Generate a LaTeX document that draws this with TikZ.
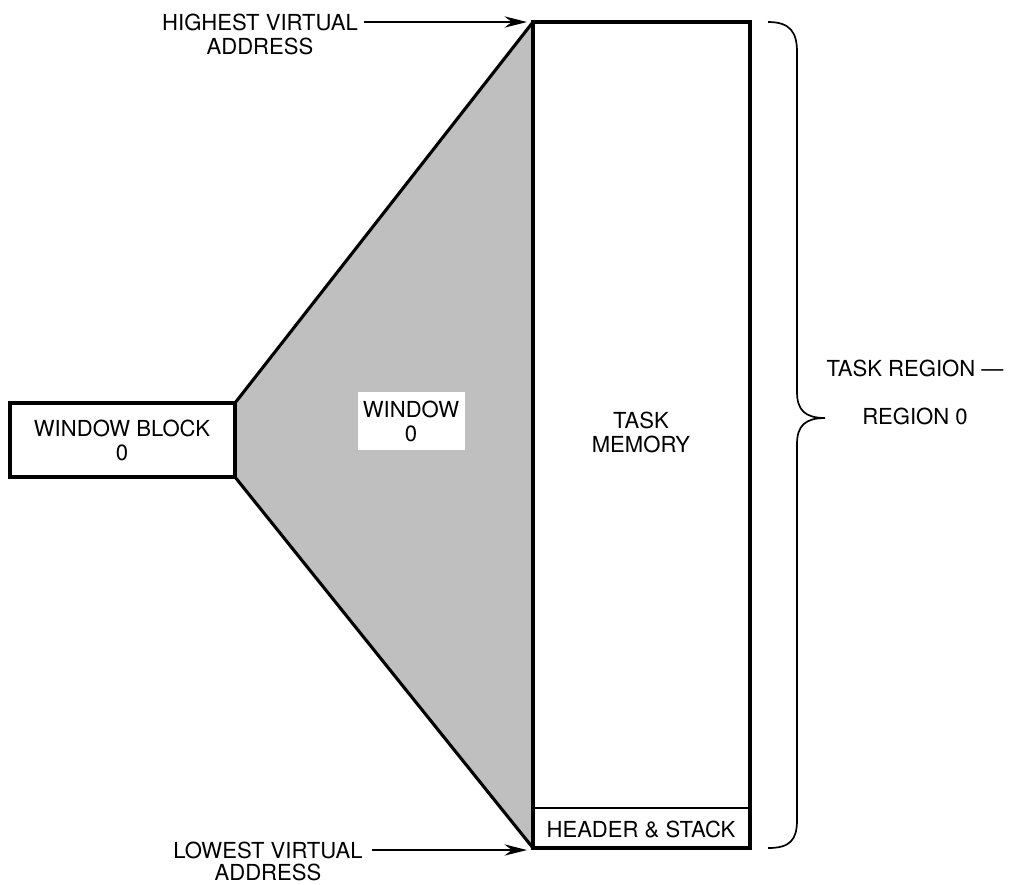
\documentclass[tikz,border=0pt]{standalone}
\usepackage{fontspec}
\setmainfont{TeX Gyre Heros}
\usetikzlibrary{arrows.meta}

\tikzset{
  lbl/.style={font=\fontsize{15.7}{17}\selectfont, align=center, inner sep=1pt},
  thickline/.style={line width=2.2pt, line join=miter},
  ptr/.style={line width=1.4pt, -{Stealth[length=16pt, width=8pt]}}
}

\begin{document}
\begin{tikzpicture}[x=0.025cm, y=-0.025cm]
\useasboundingbox (0,0) rectangle (1016,884);
\coordinate (BL) at (10,403);
\coordinate (BR) at (235,477);
\coordinate (MT) at (533,22);
\coordinate (MB) at (750,848);
\coordinate (HS) at (750,808);
\fill [black!25] (235,403) -- (MT) -- (533,848) -- (235,477) -- cycle;
\draw [thickline] (235,403) -- (MT) (533,848) -- (235,477);
\draw [thickline, fill=white] (BL) rectangle (BR);
\draw [thickline, fill=white] (MT) rectangle (MB);
\draw [line width=1.2pt] (533,808) -- (HS);
\node [lbl] (blk) at (122,440) {WINDOW BLOCK\\0};
\node [lbl, fill=white, minimum width=107*0.025cm, minimum height=58*0.025cm] (win) at (411,421) {WINDOW\\0};
\node [lbl] (mem) at (641,432) {TASK\\MEMORY};
\node [lbl] (hdr) at (641,829) {HEADER \& STACK};
\node [lbl] (hiA) at (260,22) {HIGHEST VIRTUAL};
\node [lbl] (hiB) at (260,46) {ADDRESS};
\node [lbl] (loA) at (268,850) {LOWEST VIRTUAL};
\node [lbl] (loB) at (268,872) {ADDRESS};
\node [lbl] (regA) at (915,368) {TASK REGION ---};
\node [lbl] (regB) at (915,416) {REGION 0};
\coordinate (hiP) at (527,22);
\coordinate (loP) at (527,850);
\draw [ptr] (hiA.east) ++(5,0) -- (hiP);
\draw [ptr] (loA.east) ++(8,0) -- (loP);
% brace
\draw [line width=1.2pt] (768,22) .. controls (790,22) and (797,32) .. (797,52) -- (797,392)
  .. controls (797,410) and (805,418) .. (825,418)
  .. controls (805,418) and (797,426) .. (797,444) -- (797,820)
  .. controls (797,840) and (790,848) .. (768,848);
\end{tikzpicture}
\end{document}
